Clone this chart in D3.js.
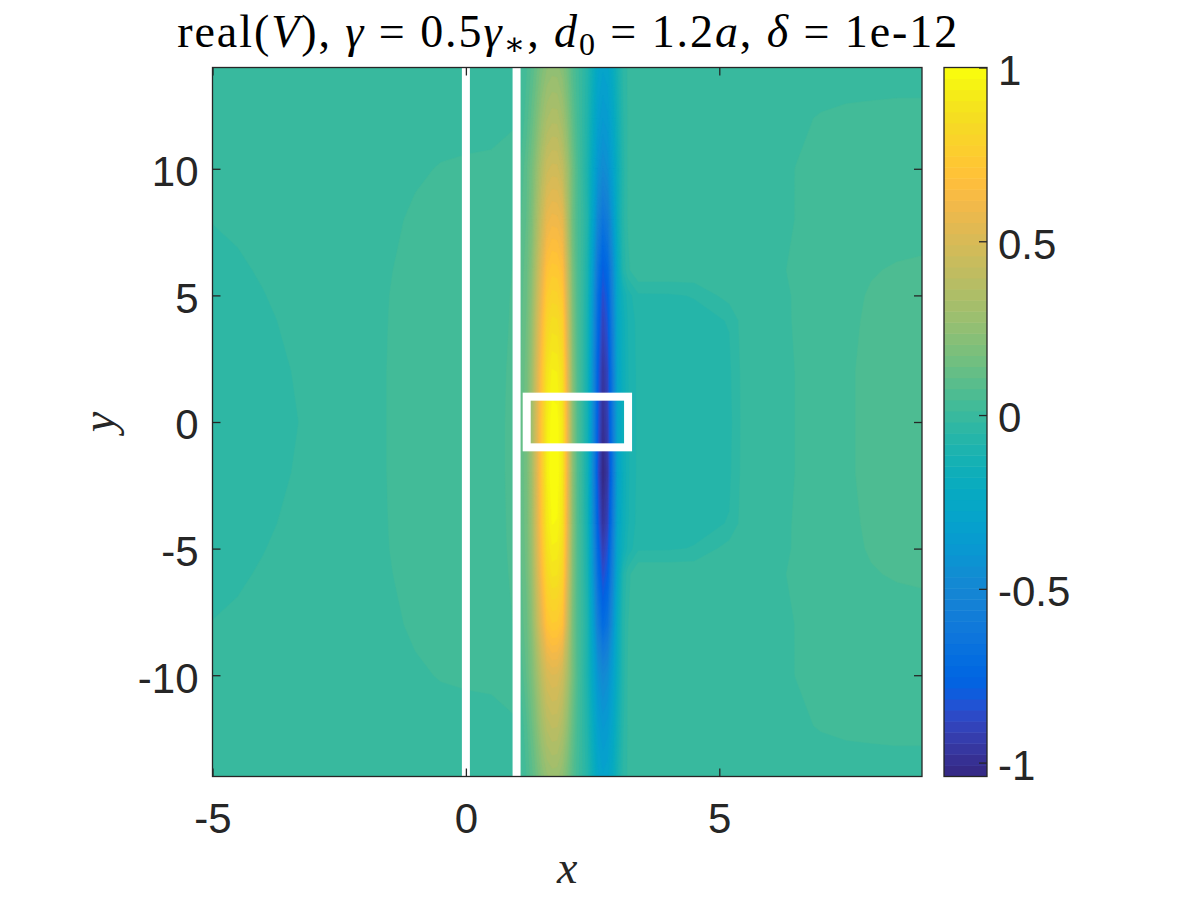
<!DOCTYPE html>
<html><head><meta charset="utf-8">
<script src="https://cdn.jsdelivr.net/npm/d3@7"></script>
<style>body{margin:0;background:#fff} svg{display:block}</style>
</head><body>
<svg id="c" width="1200" height="900"></svg>
<script>
// ---------------- data ----------------
const xGrid = [-5,-4.5,-4,-3.5,-3,-2.5,-2,-1.5,-1,-0.5,0,0.5,
  1.0,1.1,1.2,1.3,1.4,1.5,1.6,1.7,1.8,1.9,2.0,2.1,2.2,2.3,2.4,2.5,2.6,2.7,2.8,2.9,3.0,3.1,3.2,
  3.4,3.7,4,4.5,5.2,5.5,6,6.5,7,7.5,8,8.5,9];
const yGrid = [14,12,10,8,6,5,4,2,0,-2,-4,-5,-6,-8,-10,-12,-14];

const rowP14 = [-0.004,-0.003,-0.002,-0.002,-0.001,0,0,0.001,0.002,0.003,0.003,0.003,
  0.005,0.014,0.04,0.082,0.132,0.19,0.232,0.25,0.247,0.215,0.152,0.077,0.021,-0.022,-0.073,-0.163,-0.262,-0.3,-0.283,-0.208,-0.118,-0.048,-0.015,
  0,0,0,0,0,0,0.001,0.002,0.003,0.004,0.004,0.004,0.004];
const rowP12 = [-0.006,-0.005,-0.004,-0.003,-0.001,0,0.001,0.002,0.003,0.004,0.004,0.005,
  0.008,0.022,0.06,0.117,0.187,0.268,0.327,0.35,0.348,0.303,0.215,0.11,0.033,-0.025,-0.088,-0.199,-0.321,-0.37,-0.347,-0.254,-0.143,-0.057,-0.017,
  0.003,0.002,0.001,0,0,0.001,0.004,0.009,0.013,0.015,0.016,0.017,0.017];
const rowP10 = [-0.01,-0.008,-0.006,-0.004,-0.002,0,0.002,0.005,0.009,0.013,0.015,0.016,
  0.03,0.055,0.1,0.165,0.259,0.368,0.447,0.47,0.468,0.415,0.297,0.156,0.053,-0.023,-0.103,-0.244,-0.399,-0.47,-0.432,-0.314,-0.173,-0.067,-0.016,
  0.004,0.003,0.002,0.001,0.001,0.002,0.006,0.012,0.017,0.02,0.022,0.023,0.024];
const rowP8 = [-0.019,-0.015,-0.01,-0.006,-0.003,0,0.003,0.008,0.015,0.02,0.023,0.025,
  0.043,0.079,0.109,0.187,0.319,0.451,0.571,0.6,0.595,0.559,0.349,0.151,0.049,-0.007,-0.084,-0.282,-0.506,-0.64,-0.577,-0.385,-0.173,-0.062,-0.017,
  0.006,0.004,0.002,0.001,0.002,0.004,0.007,0.012,0.02,0.026,0.03,0.032,0.033];
const rowP6 = [-0.03,-0.024,-0.017,-0.01,-0.004,0,0.005,0.011,0.018,0.023,0.026,0.028,
  0.047,0.091,0.127,0.222,0.383,0.543,0.689,0.73,0.725,0.675,0.419,0.178,0.054,-0.014,-0.11,-0.355,-0.64,-0.8,-0.73,-0.484,-0.22,-0.082,-0.027,
  0.011,0.011,0.01,0.009,0.007,0.007,0.008,0.014,0.025,0.034,0.042,0.046,0.048];
const rowP5 = [-0.034,-0.028,-0.021,-0.013,-0.006,0,0.004,0.012,0.019,0.0235,0.0265,0.0285,
  0.049,0.096,0.136,0.238,0.412,0.586,0.744,0.79,0.785,0.728,0.452,0.191,0.057,-0.018,-0.12,-0.385,-0.69,-0.86,-0.78,-0.52,-0.238,-0.15,-0.1,
  -0.058,-0.057,-0.056,-0.05,-0.005,0.002,0.006,0.013,0.026,0.037,0.046,0.051,0.053];
const rowP4 = [-0.038,-0.033,-0.025,-0.016,-0.008,0,0.003,0.0125,0.02,0.024,0.027,0.029,
  0.05,0.102,0.144,0.255,0.442,0.629,0.799,0.85,0.845,0.782,0.484,0.204,0.059,-0.02,-0.13,-0.41,-0.72,-0.9,-0.82,-0.55,-0.253,-0.166,-0.114,
  -0.07,-0.068,-0.066,-0.064,-0.05,0,0.005,0.013,0.026,0.038,0.048,0.054,0.056];
const rowP2 = [-0.043,-0.038,-0.03,-0.021,-0.012,-0.004,0.004,0.013,0.02,0.025,0.028,0.03,
  0.053,0.11,0.157,0.279,0.486,0.692,0.88,0.94,0.935,0.862,0.533,0.222,0.063,-0.023,-0.14,-0.44,-0.78,-0.97,-0.885,-0.595,-0.276,-0.175,-0.118,
  -0.074,-0.072,-0.07,-0.067,-0.058,-0.004,0.004,0.012,0.025,0.04,0.05,0.055,0.058];
const row0 = [-0.045,-0.04,-0.033,-0.024,-0.014,-0.005,0.004,0.013,0.02,0.025,0.028,0.03,
  0.055,0.114,0.164,0.292,0.51,0.728,0.926,0.99,0.985,0.906,0.56,0.233,0.065,-0.025,-0.145,-0.455,-0.805,-1.0,-0.915,-0.615,-0.285,-0.18,-0.12,
  -0.075,-0.073,-0.071,-0.068,-0.062,-0.005,0.004,0.012,0.025,0.04,0.05,0.055,0.058];
const rowM2 = [-0.043,-0.038,-0.03,-0.021,-0.012,-0.004,0.004,0.013,0.02,0.025,0.028,0.03,
  0.055,0.115,0.165,0.295,0.515,0.735,0.935,1.0,0.995,0.915,0.565,0.235,0.065,-0.027,-0.152,-0.474,-0.838,-1.04,-0.953,-0.641,-0.297,-0.185,-0.122,
  -0.074,-0.072,-0.07,-0.067,-0.058,-0.004,0.004,0.012,0.025,0.04,0.05,0.055,0.058];
const rowM4 = [-0.038,-0.033,-0.025,-0.016,-0.008,0,0.003,0.0125,0.02,0.024,0.027,0.029,
  0.054,0.112,0.161,0.287,0.5,0.714,0.908,0.97,0.965,0.888,0.549,0.229,0.064,-0.024,-0.142,-0.445,-0.788,-0.98,-0.896,-0.602,-0.279,-0.178,-0.119,
  -0.07,-0.068,-0.066,-0.064,-0.05,0,0.005,0.013,0.026,0.038,0.048,0.054,0.056];
const rowM5 = [-0.034,-0.028,-0.021,-0.013,-0.006,0,0.004,0.012,0.019,0.0235,0.0265,0.0285,
  0.053,0.109,0.155,0.276,0.481,0.685,0.871,0.93,0.925,0.853,0.527,0.22,0.062,-0.021,-0.131,-0.417,-0.739,-0.92,-0.84,-0.564,-0.26,-0.16,-0.106,
  -0.058,-0.057,-0.056,-0.05,-0.005,0.002,0.006,0.013,0.026,0.037,0.046,0.051,0.053];
const rowM6 = [-0.03,-0.024,-0.017,-0.01,-0.004,0,0.005,0.011,0.018,0.023,0.026,0.028,
  0.051,0.104,0.148,0.263,0.456,0.65,0.826,0.88,0.875,0.808,0.5,0.21,0.06,-0.018,-0.121,-0.388,-0.689,-0.86,-0.783,-0.525,-0.242,-0.091,-0.031,
  0.011,0.011,0.01,0.009,0.007,0.007,0.008,0.014,0.025,0.034,0.042,0.046,0.048];
const rowM8 = [-0.019,-0.015,-0.01,-0.006,-0.003,0,0.003,0.008,0.015,0.02,0.023,0.025,
  0.047,0.092,0.129,0.225,0.388,0.55,0.698,0.74,0.735,0.684,0.425,0.18,0.055,-0.011,-0.097,-0.321,-0.573,-0.72,-0.652,-0.436,-0.198,-0.071,-0.021,
  0.006,0.004,0.002,0.001,0.002,0.004,0.007,0.012,0.02,0.026,0.03,0.032,0.033];
const rowM10 = [-0.01,-0.008,-0.006,-0.004,-0.002,0,0.002,0.005,0.009,0.013,0.015,0.016,
  0.03,0.058,0.109,0.181,0.285,0.405,0.493,0.52,0.515,0.457,0.327,0.171,0.057,-0.024,-0.108,-0.255,-0.416,-0.49,-0.451,-0.328,-0.181,-0.07,-0.017,
  0.004,0.003,0.002,0.001,0.001,0.002,0.006,0.012,0.017,0.02,0.022,0.023,0.024];
const rowM12 = [-0.006,-0.005,-0.004,-0.003,-0.001,0,0.001,0.002,0.003,0.004,0.004,0.005,
  0.008,0.024,0.068,0.133,0.213,0.305,0.373,0.4,0.397,0.345,0.245,0.125,0.037,-0.025,-0.09,-0.204,-0.329,-0.38,-0.356,-0.261,-0.147,-0.059,-0.017,
  0.003,0.002,0.001,0,0,0.001,0.004,0.009,0.013,0.015,0.016,0.017,0.017];
const rowM14 = [-0.004,-0.003,-0.002,-0.002,-0.001,0,0,0.001,0.002,0.003,0.003,0.003,
  0.005,0.015,0.045,0.092,0.148,0.212,0.26,0.28,0.276,0.24,0.17,0.086,0.024,-0.022,-0.073,-0.163,-0.262,-0.3,-0.283,-0.208,-0.118,-0.048,-0.015,
  0,0,0,0,0,0,0.001,0.002,0.003,0.004,0.004,0.004,0.004];
const V = [rowP14,rowP12,rowP10,rowP8,rowP6,rowP5,rowP4,rowP2,row0,rowM2,rowM4,rowM5,rowM6,rowM8,rowM10,rowM12,rowM14];

const xTicks = [-5, 0, 5];
const yTicks = [-10, -5, 0, 5, 10];
const cTicks = [-1, -0.5, 0, 0.5, 1];
const cLimits = [-1.04, 1];
const xDomain = [-5, 9];
const yDomain = [-14, 14];
const wallX = [0, 1];
const boxX = [1.2, 3.2];
const boxY = [-1, 1];

// MATLAB parula(64)
const parula = [
[0.2081,0.1663,0.5292],[0.2116,0.1898,0.5777],[0.2123,0.2138,0.6270],[0.2081,0.2386,0.6771],
[0.1959,0.2645,0.7279],[0.1707,0.2919,0.7792],[0.1253,0.3242,0.8303],[0.0591,0.3598,0.8683],
[0.0117,0.3875,0.8820],[0.0060,0.4086,0.8828],[0.0165,0.4266,0.8786],[0.0329,0.4430,0.8720],
[0.0498,0.4586,0.8641],[0.0629,0.4737,0.8554],[0.0723,0.4887,0.8467],[0.0779,0.5040,0.8384],
[0.0793,0.5200,0.8312],[0.0749,0.5375,0.8263],[0.0641,0.5570,0.8240],[0.0488,0.5772,0.8228],
[0.0343,0.5966,0.8199],[0.0265,0.6137,0.8135],[0.0239,0.6287,0.8038],[0.0231,0.6418,0.7913],
[0.0228,0.6535,0.7768],[0.0267,0.6642,0.7607],[0.0384,0.6743,0.7436],[0.0590,0.6838,0.7254],
[0.0843,0.6928,0.7062],[0.1133,0.7015,0.6859],[0.1453,0.7098,0.6646],[0.1801,0.7177,0.6424],
[0.2178,0.7250,0.6193],[0.2586,0.7317,0.5954],[0.3022,0.7376,0.5712],[0.3482,0.7424,0.5473],
[0.3953,0.7459,0.5244],[0.4420,0.7481,0.5033],[0.4871,0.7491,0.4840],[0.5300,0.7491,0.4661],
[0.5709,0.7485,0.4494],[0.6099,0.7473,0.4337],[0.6473,0.7456,0.4188],[0.6834,0.7435,0.4044],
[0.7184,0.7411,0.3905],[0.7525,0.7384,0.3768],[0.7858,0.7356,0.3633],[0.8185,0.7327,0.3498],
[0.8507,0.7299,0.3360],[0.8824,0.7274,0.3217],[0.9139,0.7258,0.3063],[0.9450,0.7261,0.2886],
[0.9739,0.7314,0.2666],[0.9938,0.7455,0.2403],[0.9990,0.7653,0.2164],[0.9955,0.7861,0.1967],
[0.9880,0.8066,0.1794],[0.9789,0.8271,0.1633],[0.9697,0.8481,0.1475],[0.9626,0.8705,0.1309],
[0.9589,0.8949,0.1132],[0.9598,0.9218,0.0948],[0.9661,0.9514,0.0755],[0.9763,0.9831,0.0538]];

// ---------------- layout ----------------
const m = {l: 212.5, r: 922, t: 67.5, b: 776.5};
const cb = {l: 944, r: 987};
const ink = "#262626";
const tickFont = "'Liberation Sans', Arial, Helvetica, sans-serif";
const serif = "'Liberation Serif', 'DejaVu Serif', serif";

const svg = d3.select("#c");
const x = d3.scaleLinear().domain(xDomain).range([m.l, m.r]);
const y = d3.scaleLinear().domain(yDomain).range([m.b, m.t]);
const colorOf = k => d3.rgb(parula[k][0]*255, parula[k][1]*255, parula[k][2]*255).toString();

svg.append("defs").append("clipPath").attr("id", "pc")
  .append("rect").attr("x", m.l).attr("y", m.t).attr("width", m.r - m.l).attr("height", m.b - m.t);

const plot = svg.append("g").attr("clip-path", "url(#pc)");
const nx = xGrid.length, ny = yGrid.length;
const nC = parula.length;
const step = (cLimits[1] - cLimits[0]) / nC;
const thresholds = d3.range(nC).map(k => cLimits[0] + k * step);

// grid-index -> data coordinates (non-uniform sample positions)
const ix = d3.scaleLinear().domain(xGrid.map((d, i) => i + 0.5)).range(xGrid).clamp(true);
const iy = d3.scaleLinear().domain(yGrid.map((d, j) => j + 0.5)).range(yGrid).clamp(true);
const proj = d3.geoTransform({point(px, py) { this.stream.point(x(ix(px)), y(iy(py))); }});
const path = d3.geoPath(proj);

plot.append("rect").attr("x", m.l).attr("y", m.t).attr("width", m.r - m.l).attr("height", m.b - m.t)
  .attr("fill", colorOf(0));
const levels = d3.contours().size([nx, ny]).thresholds(thresholds)(V.flat());
plot.selectAll("path.lev").data(levels).join("path").attr("class", "lev")
  .attr("d", path)
  .attr("fill", (d, i) => colorOf(i))
  .attr("stroke", (d, i) => colorOf(i))
  .attr("stroke-width", 0.5);

// white walls and box
plot.selectAll("line.wall").data(wallX).join("line").attr("class", "wall")
  .attr("x1", d => x(d)).attr("x2", d => x(d)).attr("y1", y(yDomain[0])).attr("y2", y(yDomain[1]))
  .attr("stroke", "#fff").attr("stroke-width", 8);
plot.append("rect")
  .attr("x", x(boxX[0])).attr("y", y(boxY[1]))
  .attr("width", x(boxX[1]) - x(boxX[0])).attr("height", y(boxY[0]) - y(boxY[1]))
  .attr("fill", "none").attr("stroke", "#fff").attr("stroke-width", 8);

// axes
function styleAxis(g, showLabels, dy) {
  g.select(".domain").remove();
  g.selectAll(".tick line").attr("stroke", ink).attr("stroke-width", 1.3);
  g.selectAll(".tick text").attr("fill", ink).style("font-family", tickFont).style("font-size", "42px");
  if (dy) g.selectAll(".tick text").attr("dy", dy);
  if (!showLabels) g.selectAll(".tick text").remove();
}
const fmt = d => String(d);
svg.append("g").attr("transform", `translate(0,${m.b})`)
  .call(d3.axisBottom(x).tickValues(xTicks).tickSize(-8).tickSizeOuter(0).tickPadding(27).tickFormat(fmt))
  .call(g => styleAxis(g, true));
svg.append("g").attr("transform", `translate(0,${m.t})`)
  .call(d3.axisTop(x).tickValues(xTicks).tickSize(-8).tickSizeOuter(0))
  .call(g => styleAxis(g, false));
svg.append("g").attr("transform", `translate(${m.l},0)`)
  .call(d3.axisLeft(y).tickValues(yTicks).tickSize(-8).tickSizeOuter(0).tickPadding(14).tickFormat(fmt))
  .call(g => styleAxis(g, true, "0.4em"));
svg.append("g").attr("transform", `translate(${m.r},0)`)
  .call(d3.axisRight(y).tickValues(yTicks).tickSize(-8).tickSizeOuter(0))
  .call(g => styleAxis(g, false));
svg.append("rect").attr("x", m.l).attr("y", m.t).attr("width", m.r - m.l).attr("height", m.b - m.t)
  .attr("fill", "none").attr("stroke", ink).attr("stroke-width", 1.3);

// colorbar
const yc = d3.scaleLinear().domain(cLimits).range([m.b, m.t]);
svg.append("g").selectAll("rect").data(thresholds).join("rect")
  .attr("x", cb.l).attr("width", cb.r - cb.l)
  .attr("y", d => yc(d + step)).attr("height", d => yc(d) - yc(d + step) + 0.5)
  .attr("fill", (d, i) => colorOf(i));
svg.append("g").attr("transform", `translate(${cb.r},0)`)
  .call(d3.axisRight(yc).tickValues(cTicks).tickSize(-8).tickSizeOuter(0).tickPadding(11).tickFormat(fmt))
  .call(g => styleAxis(g, true, "0.4em"));
svg.append("rect").attr("x", cb.l).attr("y", m.t).attr("width", cb.r - cb.l).attr("height", m.b - m.t)
  .attr("fill", "none").attr("stroke", ink).attr("stroke-width", 1.3);

// labels
svg.append("text").attr("x", (m.l + m.r) / 2).attr("y", 883).attr("text-anchor", "middle")
  .style("font-family", serif).style("font-style", "italic").style("font-size", "46px").attr("fill", ink).text("x");
svg.append("text").attr("transform", `translate(114,${y(0)}) rotate(-90)`).attr("text-anchor", "middle")
  .style("font-family", serif).style("font-style", "italic").style("font-size", "46px").attr("fill", ink).text("y");

const title = svg.append("text").attr("x", (m.l + m.r) / 2).attr("y", 47).attr("text-anchor", "middle")
  .attr("textLength", 780).attr("lengthAdjust", "spacing")
  .style("font-family", serif).style("font-size", "46px").attr("fill", "#000");
const parts = [
  ["real(", 0], ["V", 1], ["), ", 0], ["γ", 1], [" = 0.5", 0], ["γ", 1], ["∗", 2], [", ", 0],
  ["d", 1], ["0", 2], [" = 1.2", 0], ["a", 1], [", ", 0], ["δ", 1], [" = 1e-12", 0]];
parts.forEach(([t, k], i) => {
  const ts = title.append("tspan").text(t);
  if (k === 1) ts.style("font-style", "italic");
  if (k === 2) ts.style("font-size", "32px").attr("dy", 8);
  if (k !== 2 && i > 0 && parts[i - 1][1] === 2) ts.attr("dy", -8);
});
</script>
</body></html>
